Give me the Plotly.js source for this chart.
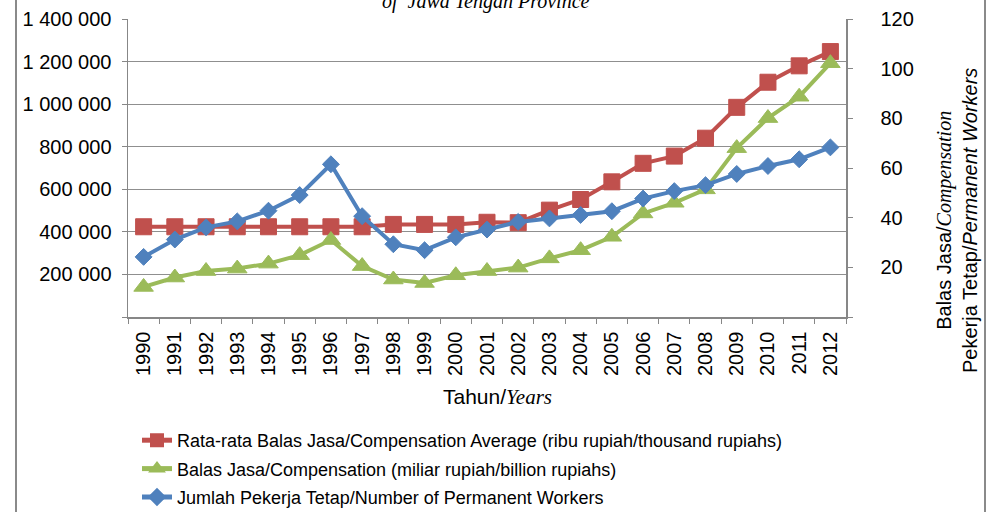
<!DOCTYPE html>
<html>
<head>
<meta charset="utf-8">
<script src="https://cdn.plot.ly/plotly-3.0.1.min.js"></script>
<style>
  html, body { margin: 0; padding: 0; background: #ffffff; }
  #chart { width: 993px; height: 512px; }
</style>
</head>
<body>
<div id="chart"></div>
<script>
// ---- Data ----
const years = ['1990','1991','1992','1993','1994','1995','1996','1997','1998','1999','2000','2001',
               '2002','2003','2004','2005','2006','2007','2008','2009','2010','2011','2012'];

// Rata-rata Balas Jasa / Compensation Average (ribu rupiah / thousand rupiahs) - left axis
const compensationAverage = [424, 424, 424, 424, 424, 424, 424, 424, 435, 435, 435, 445,
                             443, 502, 552, 635, 722, 756, 840, 985, 1103, 1180, 1247].map(v => v * 1000);

// Balas Jasa / Compensation (miliar rupiah / billion rupiahs) - right axis
const compensationTotal = [12.1, 15.9, 18.5, 19.5, 21.5, 24.9, 31.0, 20.5, 15.1, 13.7, 16.8, 18.5,
                           19.9, 23.6, 26.9, 32.3, 41.7, 46.0, 51.4, 68.0, 80.1, 88.7, 102.2];

// Jumlah Pekerja Tetap / Number of Permanent Workers - right axis
const permanentWorkers = [24.2, 31.2, 36.1, 38.5, 42.8, 49.1, 61.5, 40.6, 29.3, 26.9, 32.1, 35.2,
                          38.3, 39.7, 41.1, 42.6, 47.7, 50.7, 53.1, 57.6, 60.8, 63.5, 68.3];

const leftTickValues = [0, 200000, 400000, 600000, 800000, 1000000, 1200000, 1400000];
const rightTickValues = [0, 20, 40, 60, 80, 100, 120];

const seriesNames = [
  'Rata-rata Balas Jasa/Compensation Average (ribu rupiah/thousand rupiahs)',
  'Balas Jasa/Compensation (miliar rupiah/billion rupiahs)',
  'Jumlah Pekerja Tetap/Number of Permanent Workers'
];

// ---- Helpers ----
function spaceThousands(v) {
  return String(v).replace(/\B(?=(\d{3})+(?!\d))/g, ' ');
}
const leftTickText = leftTickValues.map(v => v === 0 ? '' : spaceThousands(v));
const rightTickText = rightTickValues.map(v => v === 0 ? '' : String(v));

const RED = '#C0504D', GREEN = '#9BBB59', BLUE = '#4F81BD';
const AXIS_GRAY = '#878787';
const SANS = 'Liberation Sans, Arial, sans-serif';
const SERIF = 'Liberation Serif, Times New Roman, serif';

const traces = [
  {
    x: years, y: compensationAverage, name: seriesNames[0], yaxis: 'y', legendgroup: 'a',
    type: 'scatter', mode: 'lines+markers',
    line: { color: RED, width: 4 },
    marker: { symbol: 'square', size: 16, color: RED, line: { color: RED, width: 1 } }
  },
  {
    x: years, y: compensationTotal, name: seriesNames[1], yaxis: 'y2', legendgroup: 'b',
    type: 'scatter', mode: 'lines+markers',
    line: { color: GREEN, width: 4 },
    marker: { symbol: 'triangle-up', size: 17, color: GREEN, line: { color: GREEN, width: 1 } }
  },
  {
    x: years, y: permanentWorkers, name: seriesNames[2], yaxis: 'y2', legendgroup: 'c',
    type: 'scatter', mode: 'lines+markers',
    line: { color: BLUE, width: 4 },
    marker: { symbol: 'diamond', size: 13, color: BLUE, line: { color: BLUE, width: 1 } }
  }
];

const L = 128, R = 846, T = 19, B = 317;
const W = 993, H = 512;
const px2x = px => (px - L) / (R - L);
const px2y = py => (B - py) / (B - T);

const layout = {
  width: W, height: H,
  margin: { l: L, r: W - R, t: T, b: H - B, pad: 0, autoexpand: false },
  paper_bgcolor: '#ffffff', plot_bgcolor: '#ffffff',
  font: { family: SANS, size: 20, color: '#000000' },
  showlegend: true,
  legend: {
    xref: 'container', yref: 'container',
    x: 137 / W, y: 1 - 422 / H, xanchor: 'left', yanchor: 'top',
    font: { family: SANS, size: 18, color: '#000000' },
    bgcolor: 'rgba(0,0,0,0)', borderwidth: 0,
    tracegroupgap: 2, orientation: 'v', itemsizing: 'constant'
  },
  xaxis: {
    type: 'category',
    range: [-0.5, years.length - 0.5],
    tickangle: -90,
    ticks: 'outside', tickson: 'boundaries', ticklen: 5, tickwidth: 1, tickcolor: AXIS_GRAY,
    ticklabelstandoff: 5,
    showline: true, linecolor: AXIS_GRAY, linewidth: 1.5,
    showgrid: false, zeroline: false,
    tickfont: { family: SANS, size: 20, color: '#000000' },
    automargin: false
  },
  yaxis: {
    range: [0, 1400000],
    tickmode: 'array', tickvals: leftTickValues, ticktext: leftTickText,
    ticks: 'outside', ticklen: 5, tickwidth: 1, tickcolor: AXIS_GRAY,
    ticklabelstandoff: 6,
    showline: true, linecolor: AXIS_GRAY, linewidth: 1.5,
    showgrid: true, gridcolor: '#8f8f8f', gridwidth: 1.2,
    zeroline: false,
    tickfont: { family: SANS, size: 20, color: '#000000' },
    automargin: false
  },
  yaxis2: {
    overlaying: 'y', side: 'right',
    range: [0, 120],
    tickmode: 'array', tickvals: rightTickValues, ticktext: rightTickText,
    ticks: 'outside', ticklen: 5, tickwidth: 1, tickcolor: AXIS_GRAY,
    ticklabelstandoff: 24,
    showline: true, linecolor: AXIS_GRAY, linewidth: 1.5,
    showgrid: false, zeroline: false,
    tickfont: { family: SANS, size: 20, color: '#000000' },
    automargin: false
  },
  annotations: [
    {
      text: '<i>of  Jawa Tengah Province</i>',
      xref: 'paper', yref: 'paper', x: px2x(486), y: 1,
      xanchor: 'center', yanchor: 'bottom', yshift: 4, showarrow: false,
      font: { family: SERIF, size: 20, color: '#000000' }
    },
    {
      text: 'Tahun/<span style="font-family:Liberation Serif, Times New Roman, serif;font-style:italic">Years</span>',
      xref: 'paper', yref: 'paper', x: px2x(497), y: px2y(397),
      xanchor: 'center', yanchor: 'middle', showarrow: false,
      font: { family: SANS, size: 21, color: '#000000' }
    },
    {
      text: 'Balas Jasa/<span style="font-family:Liberation Serif, Times New Roman, serif;font-style:italic">Compensation</span><br>Pekerja Tetap/<i>Permanent Workers</i>',
      xref: 'paper', yref: 'paper', x: px2x(957), y: px2y(221),
      xanchor: 'center', yanchor: 'middle', textangle: -90, showarrow: false,
      font: { family: SANS, size: 20, color: '#000000' }
    }
  ],
  shapes: [
    { type: 'line', xref: 'paper', yref: 'paper', x0: px2x(16), x1: px2x(16), y0: px2y(-5), y1: px2y(520),
      line: { color: '#8a8a8a', width: 2 } },
    { type: 'line', xref: 'paper', yref: 'paper', x0: px2x(985), x1: px2x(985), y0: px2y(-5), y1: px2y(520),
      line: { color: '#8a8a8a', width: 2 } }
  ]
};

Plotly.newPlot('chart', traces, layout, { displayModeBar: false, staticPlot: true });
</script>
</body>
</html>
